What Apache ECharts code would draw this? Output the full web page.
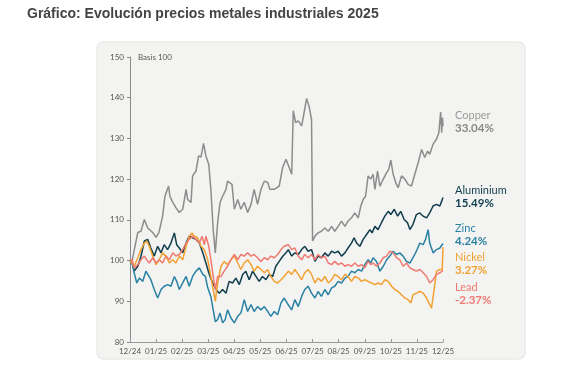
<!DOCTYPE html>
<html>
<head>
<meta charset="utf-8">
<script src="https://cdn.jsdelivr.net/npm/echarts@6/dist/echarts.min.js"></script>
<style>
html,body{margin:0;padding:0;background:#fff;}
#c{width:577px;height:369px;}
</style>
</head>
<body>
<div id="c"></div>
<script>
// ---- DATA (x = months since 12/24, y = index, basis 100) ----
var monthLabels = ['12/24','01/25','02/25','03/25','04/25','05/25','06/25','07/25','08/25','09/25','10/25','11/25','12/25'];
var seriesNames = ['Copper','Aluminium','Zinc','Nickel','Lead'];
var seriesPct = ['33.04%','15.49%','4.24%','3.27%','-2.37%'];
var yTicks = [80, 150, 10];

var copper = [[0,100],[0.08,100],[0.30,106.9],[0.42,107.2],[0.55,110.1],[0.68,108],[0.87,106.9],[1.00,105.7],[1.11,106.9],[1.25,110.9],[1.34,115.8],[1.48,118.3],[1.53,115.8],[1.64,114.3],[1.76,113],[1.89,111.8],[2.02,112.6],[2.15,117.5],[2.21,115],[2.34,114.3],[2.40,120.8],[2.53,122],[2.63,125.7],[2.72,125.4],[2.82,128.8],[2.91,125.7],[3.02,123.6],[3.10,117.5],[3.19,107.6],[3.27,101.9],[3.36,109.3],[3.45,114.2],[3.55,115.8],[3.68,117.5],[3.74,119.5],[3.91,118.7],[4.00,112.6],[4.13,115],[4.25,112.6],[4.38,114.3],[4.51,111.8],[4.64,113.8],[4.76,117.5],[4.89,113.8],[5.02,117.5],[5.15,119.5],[5.28,119.2],[5.36,117.5],[5.53,117.5],[5.72,118.3],[5.85,122.8],[5.98,124.9],[6.10,122.9],[6.20,121.2],[6.26,136.8],[6.35,133.9],[6.45,134.3],[6.58,133.1],[6.64,135.1],[6.77,139.8],[6.86,138],[6.96,134.7],[7.00,104.8],[7.09,106],[7.21,106.8],[7.34,107.2],[7.47,108],[7.60,107.2],[7.73,108.4],[7.85,107.2],[7.98,108.4],[8.11,109.7],[8.24,108.4],[8.36,109.7],[8.49,110.5],[8.62,111.7],[8.75,110.5],[8.85,113.4],[8.94,115],[9.03,115.8],[9.13,120.8],[9.23,120],[9.32,121.2],[9.39,117.5],[9.49,122],[9.58,118.3],[9.71,120],[9.84,121.6],[9.92,122.4],[10.00,124.7],[10.09,121.2],[10.19,119.1],[10.28,117.9],[10.41,120.8],[10.54,120],[10.66,118.7],[10.79,118.3],[10.92,121.2],[11.05,124.1],[11.18,127.3],[11.23,127.7],[11.30,125.3],[11.41,126.9],[11.49,126.1],[11.62,128.6],[11.75,129.8],[11.84,131.4],[11.91,136.5],[11.95,131.4],[11.98,135.1],[12.0,133.0]];

var aluminium = [[0,100],[0.08,99.4],[0.16,97.4],[0.30,98.6],[0.42,101],[0.55,104.8],[0.68,105.2],[0.80,103.1],[0.93,101.1],[1.06,103.5],[1.19,101.9],[1.31,103.9],[1.44,102.7],[1.57,104.3],[1.70,106.8],[1.79,103.9],[1.89,103.1],[2.02,101.9],[2.15,104.3],[2.27,106],[2.40,105.6],[2.53,105.2],[2.66,104.3],[2.79,101.9],[2.91,99.4],[3.04,96.6],[3.17,94.5],[3.30,92.9],[3.42,92],[3.55,92.9],[3.68,92],[3.80,94.9],[3.93,94.5],[4.06,95.7],[4.19,94.1],[4.32,96.6],[4.44,97.4],[4.57,95.3],[4.70,97.4],[4.83,96.1],[4.95,94.9],[5.08,96.1],[5.21,95.3],[5.34,96.6],[5.47,96.1],[5.59,98.6],[5.72,99.8],[5.85,101],[5.98,101.9],[6.07,102.7],[6.20,101.1],[6.32,101.9],[6.45,101.5],[6.58,102.7],[6.70,103.5],[6.83,102.3],[6.96,102.7],[7.09,99.8],[7.21,101.1],[7.34,100.7],[7.47,101.9],[7.60,101.1],[7.73,102.3],[7.85,101.9],[7.98,102.3],[8.11,101.1],[8.24,101.9],[8.36,103.1],[8.49,104.3],[8.59,105.6],[8.69,104.3],[8.81,103.5],[8.94,105.2],[9.07,106.4],[9.20,107.6],[9.28,106.8],[9.39,108.4],[9.51,107.6],[9.64,109.3],[9.77,110.9],[9.90,112.1],[10.00,111.3],[10.13,112.6],[10.26,110.9],[10.38,112.1],[10.51,110.1],[10.64,109.3],[10.73,107.6],[10.85,108.9],[10.98,111.3],[11.11,111.7],[11.24,110.9],[11.37,110.5],[11.49,111.7],[11.62,113.4],[11.75,113.8],[11.88,113.4],[11.95,114.6],[12.0,115.5]];

var zinc = [[0,100],[0.08,99.4],[0.16,97],[0.26,94.5],[0.36,95.7],[0.49,94.9],[0.61,97.4],[0.68,97.8],[0.80,95.3],[0.93,92.9],[1.06,90.8],[1.19,92.9],[1.31,93.7],[1.44,94.1],[1.57,93.7],[1.70,96.1],[1.79,94.9],[1.89,92.9],[2.02,94.5],[2.15,96.1],[2.27,93.7],[2.40,96.1],[2.53,97.4],[2.66,98.2],[2.79,96.6],[2.89,96.1],[2.98,93.3],[3.10,91.2],[3.19,87.9],[3.27,85],[3.36,85.5],[3.45,87.1],[3.55,84.7],[3.65,85.5],[3.74,87.9],[3.87,85.9],[4.00,84.7],[4.13,86.3],[4.25,87.1],[4.38,90.4],[4.51,87.5],[4.64,89.2],[4.76,87.5],[4.89,88.7],[5.02,87.9],[5.15,88.7],[5.28,87.5],[5.40,86.3],[5.53,87.5],[5.66,86.7],[5.79,89.6],[5.91,90.8],[6.04,89.4],[6.20,87.9],[6.32,90.4],[6.45,88.7],[6.58,91.2],[6.70,92.9],[6.83,93.7],[6.96,92],[7.09,90.8],[7.21,92.4],[7.34,91.2],[7.47,92.9],[7.60,91.6],[7.73,93.3],[7.85,93.7],[7.98,94.9],[8.11,94.5],[8.24,95.7],[8.36,96.1],[8.49,97.4],[8.62,97],[8.75,97.8],[8.88,97.4],[9.00,99],[9.13,100.2],[9.23,99.4],[9.32,100.7],[9.45,99.8],[9.58,97.4],[9.71,98.6],[9.84,100.2],[9.96,101.1],[10.09,102.3],[10.22,101.5],[10.34,101.9],[10.47,101.1],[10.60,99.8],[10.73,99.4],[10.85,100.7],[10.98,102.3],[11.11,104.3],[11.24,103.9],[11.33,105.2],[11.43,107.6],[11.49,104.3],[11.62,101.9],[11.75,102.7],[11.88,103.1],[12.0,104.2]];

var nickel = [[0,100],[0.08,99.4],[0.16,98.6],[0.30,100.7],[0.42,102.7],[0.55,104.3],[0.64,104.8],[0.74,103.5],[0.87,101.1],[1.00,99],[1.12,100.2],[1.25,101.9],[1.38,101.1],[1.51,99.4],[1.64,100.2],[1.76,99.4],[1.89,101.1],[2.02,100.2],[2.15,103.5],[2.27,106],[2.38,106.8],[2.46,106],[2.59,105.6],[2.72,103.5],[2.85,102.7],[2.98,100.2],[3.10,96.1],[3.19,92.9],[3.27,90],[3.36,94.5],[3.49,98.6],[3.61,99.8],[3.74,99],[3.87,100.2],[4.00,101.1],[4.13,99.4],[4.25,97.8],[4.38,99.4],[4.51,100.2],[4.64,99],[4.76,97.4],[4.89,98.6],[5.02,97.8],[5.15,97],[5.28,97.8],[5.40,96.1],[5.53,94.9],[5.66,94.5],[5.79,95.3],[5.91,96.1],[6.07,97.4],[6.20,96.6],[6.32,97.8],[6.45,96.6],[6.58,95.3],[6.70,97],[6.83,97.8],[6.96,96.6],[7.09,94.5],[7.21,95.7],[7.34,94.9],[7.47,96.1],[7.60,94.5],[7.73,95.3],[7.85,96.6],[7.98,96.1],[8.11,95.3],[8.24,96.6],[8.36,96.1],[8.49,94.9],[8.62,96.1],[8.75,95.7],[8.88,94.9],[9.00,95.3],[9.13,94.9],[9.26,94.5],[9.39,94.1],[9.51,94.5],[9.64,94.1],[9.77,95.3],[9.90,94.9],[10.03,93.7],[10.15,92.9],[10.28,92.4],[10.41,91.6],[10.54,90.8],[10.66,90.4],[10.77,89.6],[10.85,91.6],[10.98,92],[11.11,92.4],[11.24,92],[11.37,90.8],[11.46,89.6],[11.56,88.3],[11.66,92.9],[11.75,97.4],[11.88,97.8],[11.97,97.8],[12.0,103.3]];

var lead = [[0,100],[0.08,100.2],[0.16,98.2],[0.30,99],[0.42,100.2],[0.55,101.1],[0.64,100.2],[0.74,99.4],[0.87,100.7],[1.00,99.4],[1.12,100.2],[1.25,99.4],[1.38,101.1],[1.51,100.2],[1.64,101.9],[1.76,101.1],[1.89,101.5],[2.02,102.7],[2.15,104.3],[2.27,105.2],[2.40,106],[2.53,105.2],[2.66,104.3],[2.76,106],[2.85,103.9],[2.91,106],[3.02,103.5],[3.10,100.2],[3.19,96.1],[3.27,92.9],[3.36,96.1],[3.49,96.1],[3.61,97.4],[3.74,98.6],[3.87,100.2],[4.00,101.5],[4.13,100.2],[4.25,101.5],[4.38,101.1],[4.51,101.9],[4.64,101.1],[4.76,101.5],[4.89,100.7],[5.02,99.8],[5.15,100.7],[5.28,100.2],[5.40,101.1],[5.53,100.7],[5.66,101.5],[5.79,102.7],[5.91,103.5],[6.07,103.9],[6.20,102.7],[6.32,103.1],[6.45,101.1],[6.58,100.2],[6.70,101.5],[6.83,100.7],[6.96,101.5],[7.09,100.2],[7.21,101.5],[7.34,100.7],[7.47,101.1],[7.60,99.4],[7.73,99],[7.85,99.8],[7.98,99],[8.11,99.4],[8.24,98.6],[8.36,99],[8.49,98.6],[8.62,99.4],[8.75,98.6],[8.88,99],[9.00,98.2],[9.13,99.8],[9.23,99],[9.32,99.4],[9.45,98.6],[9.58,99.4],[9.71,100.7],[9.84,101.1],[9.96,102.3],[10.09,101.9],[10.22,100.7],[10.34,100.2],[10.47,98.6],[10.60,99.4],[10.73,98.2],[10.85,97.8],[10.98,97.4],[11.11,97.8],[11.24,97],[11.37,96.1],[11.49,94.5],[11.62,95.3],[11.75,96.6],[11.88,97],[12.0,97.6]];

// ---- STYLE / LAYOUT ----
var colors = ['#8c8c8c','#0f3d4c','#2a81a3','#f2a132','#ef7a70'];
var nameColors = ['#9b9b9b','#0f3d4c','#2a81a3','#f2a132','#ef7a70'];
var labelY = [115.5, 190.5, 228, 257, 287];
var dataSets = [copper, aluminium, zinc, nickel, lead];

var chart = echarts.init(document.getElementById('c'), null, {renderer:'canvas'});

var graphics = [
  {type:'rect', z:-10, silent:true, shape:{x:97, y:42, width:428, height:317, r:6},
   style:{fill:'#f3f3f1', stroke:'#e2e2e0', lineWidth:1}},
  {type:'text', z:10, style:{text:'Basis 100', x:138, y:57, fill:'#555', font:'8px Lato', verticalAlign:'middle'}}
];
seriesNames.forEach(function(n, i){
  graphics.push({type:'text', z:10, style:{text:n, x:455, y:labelY[i], fill:nameColors[i], font:'11px Lato', verticalAlign:'middle'}});
  graphics.push({type:'text', z:10, style:{text:seriesPct[i], x:455, y:labelY[i]+13, fill:i===0?'#888':nameColors[i], font:'bold 11.5px Lato', verticalAlign:'middle'}});
});

chart.setOption({
  animation:false,
  backgroundColor:'#ffffff',
  title:{text:'Gráfico: Evolución precios metales industriales 2025', left:27, top:7, padding:0,
    textStyle:{fontFamily:'Liberation Sans', fontSize:14, fontWeight:'bold', color:'#444'}},
  grid:{left:130, right:134, top:57, bottom:27, containLabel:false},
  xAxis:{type:'value', min:0, max:12, interval:1,
    axisLine:{show:true, lineStyle:{color:'#999', width:1}},
    axisTick:{show:true, inside:true, length:3, lineStyle:{color:'#999'}},
    axisLabel:{fontSize:8, fontFamily:'Lato', color:'#555', margin:5,
      formatter:function(v){ return monthLabels[Math.round(v)] || ''; }},
    splitLine:{show:false}},
  yAxis:{type:'value', min:yTicks[0], max:yTicks[1], interval:yTicks[2],
    axisLine:{show:true, lineStyle:{color:'#888', width:1}},
    axisTick:{show:true, length:3, lineStyle:{color:'#888'}},
    axisLabel:{fontSize:8, fontFamily:'Lato', color:'#555', margin:6},
    splitLine:{show:false}},
  graphic:graphics,
  series: seriesNames.map(function(n, i){
    return {name:n, type:'line', data:dataSets[i], showSymbol:false, symbol:'none',
      lineStyle:{color:colors[i], width:1.5}, itemStyle:{color:colors[i]}, z:2+i};
  })
});
</script>
</body>
</html>
